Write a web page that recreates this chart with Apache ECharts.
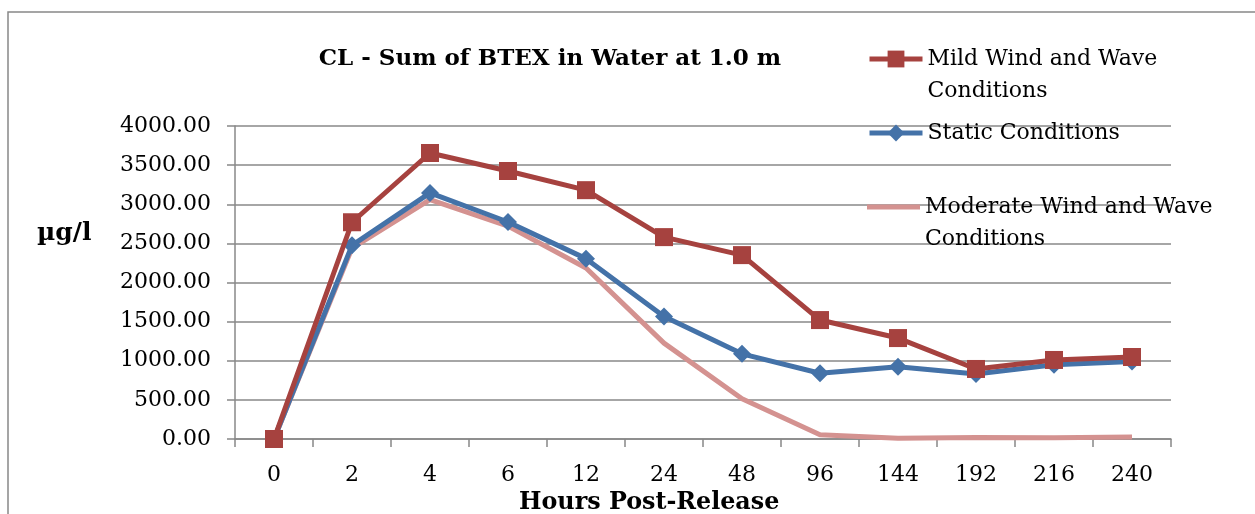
<!DOCTYPE html>
<html>
<head>
<meta charset="utf-8">
<script src="https://cdn.jsdelivr.net/npm/echarts@6/dist/echarts.min.js"></script>
<style>
html,body{margin:0;padding:0;background:#fff;}
#chart{width:1255px;height:514px;}
</style>
</head>
<body>
<div id="chart"></div>
<script>
const categories = ['0','2','4','6','12','24','48','96','144','192','216','240'];
const mildWind = [0, 2770, 3655, 3425, 3180, 2580, 2350, 1520, 1290, 895, 1010, 1048];
const staticCond = [0, 2475, 3145, 2773, 2305, 1565, 1088, 840, 922, 832, 948, 990];
const moderateWind = [0, 2440, 3060, 2720, 2185, 1225, 515, 55, 10, 20, 15, 25];
const yTicks = {min: 0, max: 4000, interval: 500};
const titleText = 'CL - Sum of BTEX in Water at 1.0 m';
const yName = 'µg/l';
const xName = 'Hours Post-Release';
const names = ['Mild Wind and Wave Conditions', 'Static Conditions', 'Moderate Wind and Wave Conditions'];

const FONT = 'DejaVu Serif';
const RED = '#A6423F', BLUE = '#4472A8', PINK = '#D49290';
const legendText = {
  'Mild Wind and Wave Conditions': '\nMild Wind and Wave\nConditions',
  'Static Conditions': 'Static Conditions',
  'Moderate Wind and Wave Conditions': '\nModerate Wind and Wave\nConditions'
};
function legendAt(name, top, extra) {
  return Object.assign({
    data: [name], orient: 'vertical', left: 867, top: top, padding: 0,
    itemWidth: 53, itemHeight: 21, itemGap: 0,
    formatter: n => legendText[n],
    lineStyle: {width: 5},
    textStyle: {fontFamily: FONT, fontSize: 22, color: '#000', lineHeight: 32}
  }, extra || {});
}
const chart = echarts.init(document.getElementById('chart'), null, {renderer: 'canvas'});
chart.setOption({
  animation: false,
  backgroundColor: '#fff',
  title: {
    text: titleText, left: 545, textAlign: 'center', top: 43,
    textStyle: {fontFamily: FONT, fontWeight: 'bold', fontSize: 23, color: '#000'}
  },
  legend: [
    legendAt(names[0], 11),
    legendAt(names[1], 117),
    legendAt(names[2], 159, {
      data: [{name: names[2], icon: 'rect', itemStyle: {color: PINK}}],
      itemHeight: 5
    })
  ],
  grid: {left: 235, right: 84, top: 126, bottom: 75, containLabel: false},
  xAxis: {
    type: 'category', data: categories, boundaryGap: true,
    axisLine: {lineStyle: {color: '#888', width: 1.5}},
    axisTick: {show: true, length: 8, lineStyle: {color: '#888', width: 1.5}},
    axisLabel: {fontFamily: FONT, fontSize: 22, color: '#000', margin: 25}
  },
  yAxis: {
    type: 'value', min: yTicks.min, max: yTicks.max, interval: yTicks.interval,
    axisLine: {show: true, lineStyle: {color: '#888', width: 1.5}},
    axisTick: {show: true, length: 8, lineStyle: {color: '#888', width: 1.5}},
    splitLine: {lineStyle: {color: '#888', width: 1.5}},
    axisLabel: {fontFamily: FONT, fontSize: 22, color: '#000', margin: 24,
      formatter: v => v.toFixed(2)}
  },
  graphic: [
    {type: 'rect', silent: true,
      shape: {x: 8, y: 12, width: 1270, height: 530},
      style: {fill: 'none', stroke: '#888', lineWidth: 1.5}},
    {type: 'text', left: 37, top: 221,
      style: {text: yName, fontFamily: FONT, fontWeight: 'bold', fontSize: 25, fill: '#000'}},
    {type: 'text', left: 519, top: 491,
      style: {text: xName, fontFamily: FONT, fontWeight: 'bold', fontSize: 23.8, fill: '#000'}}
  ],
  series: [
    {name: names[2], type: 'line', data: moderateWind, symbol: 'none', z: 2,
      lineStyle: {color: PINK, width: 5}, itemStyle: {color: PINK}},
    {name: names[1], type: 'line', data: staticCond, symbol: 'diamond', symbolSize: 18, z: 3,
      lineStyle: {color: BLUE, width: 5}, itemStyle: {color: BLUE}},
    {name: names[0], type: 'line', data: mildWind, symbol: 'rect', symbolSize: 18, z: 4,
      lineStyle: {color: RED, width: 5}, itemStyle: {color: RED}}
  ]
});
</script>
</body>
</html>
